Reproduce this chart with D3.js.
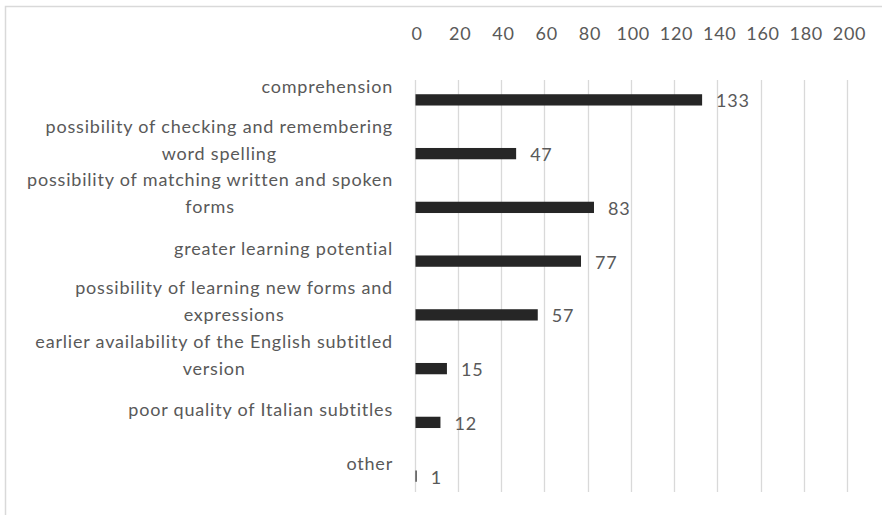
<!DOCTYPE html>
<html>
<head>
<meta charset="utf-8">
<script src="https://cdn.jsdelivr.net/npm/d3@7"></script>
<style>
html,body{margin:0;padding:0;background:#fff;}
svg{display:block;}
text{font-family:Lato,"Open Sans",sans-serif;fill:#595959;letter-spacing:0.8px;}
</style>
</head>
<body>
<svg id="chart" width="882" height="515"></svg>
<script>
const categories = [
  "comprehension",
  "possibility of checking and remembering\nword spelling",
  "possibility of matching written and spoken\nforms",
  "greater learning potential",
  "possibility of learning new forms and\nexpressions",
  "earlier availability of the English subtitled\nversion",
  "poor quality of Italian subtitles",
  "other"
];
const values = [133, 47, 83, 77, 57, 15, 12, 1];
const tickValues = [0, 20, 40, 60, 80, 100, 120, 140, 160, 180, 200];

const svg = d3.select("#chart");
const FS = 18;

// outer border
svg.append("rect")
  .attr("x", 5.5).attr("y", 6.5)
  .attr("width", 900).attr("height", 600)
  .attr("fill", "none").attr("stroke", "#d9d9d9").attr("stroke-width", 1.5);

const x = d3.scaleLinear().domain([0, 200]).range([414.5, 847]);
const y = d3.scaleBand().domain(categories).range([73, 503]).paddingInner(0.79).paddingOuter(0.395);

const gridTop = 80, gridBottom = 492;

// gridlines
svg.append("g").selectAll("line").data(tickValues).join("line")
  .attr("x1", d => Math.round(x(d)) + 0.5).attr("x2", d => Math.round(x(d)) + 0.5)
  .attr("y1", gridTop).attr("y2", gridBottom)
  .attr("stroke", "#d9d9d9").attr("stroke-width", 1.3);

// top axis tick labels
const axis = d3.axisTop(x).tickValues(tickValues).tickSize(0).tickPadding(0);
const gAxis = svg.append("g").attr("transform", "translate(0,40)").call(axis);
gAxis.select(".domain").remove();
gAxis.selectAll("text")
  .attr("font-size", FS).attr("fill", "#595959")
  .style("font-family", "Lato, 'Open Sans', sans-serif")
  .attr("dx", 2)
  .attr("dy", 0);

// bars
svg.append("g").selectAll("rect").data(values).join("rect")
  .attr("x", x(0) + 1)
  .attr("y", (d, i) => y(categories[i]))
  .attr("width", d => Math.max(1, x(d) - x(0) - 1))
  .attr("height", y.bandwidth())
  .attr("fill", "#262626");

// value labels
svg.append("g").selectAll("text").data(values).join("text")
  .attr("x", d => x(d) + 14)
  .attr("y", (d, i) => y(categories[i]) + y.bandwidth() / 2 + 3)
  .attr("dominant-baseline", "middle")
  .attr("font-size", FS)
  .text(d => d);

// category labels
const lineH = 27;
const labelRight = 393;
categories.forEach((c, i) => {
  const lines = c.split("\n");
  const cy = y(c) + y.bandwidth() / 2 - (lines.length > 1 ? 12 : 11);
  const g = svg.append("g");
  const texts = lines.map((ln, j) => g.append("text")
    .attr("font-size", FS)
    .attr("text-anchor", "middle")
    .attr("dominant-baseline", "middle")
    .attr("y", cy + (j - (lines.length - 1) / 2) * lineH)
    .text(ln));
  const maxW = d3.max(texts, t => t.node().getComputedTextLength());
  texts.forEach(t => t.attr("x", labelRight - maxW / 2));
});
</script>
</body>
</html>
